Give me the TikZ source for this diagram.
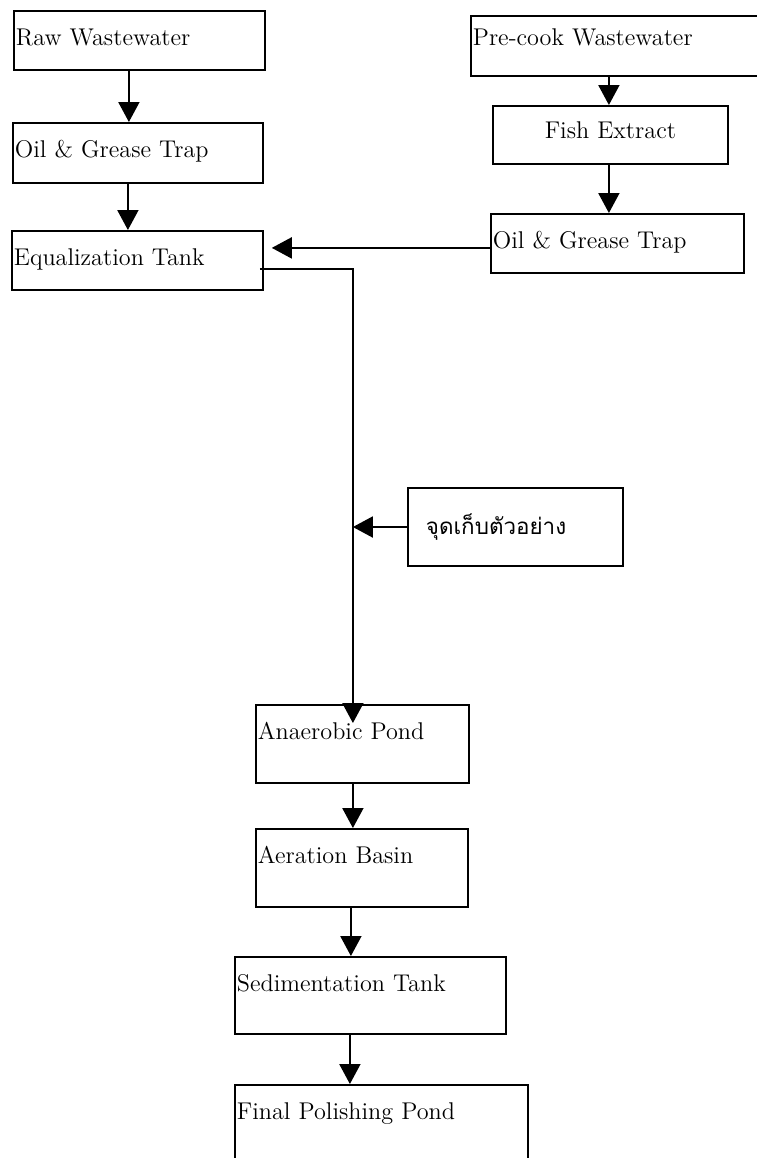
\documentclass[tikz,border=0pt]{standalone}
\usepackage{fontspec}
\newfontfamily\thaifont[Script=Thai]{Loma}
\usetikzlibrary{arrows.meta, calc}

\begin{document}
\begin{tikzpicture}[x=0.5pt, y=-0.5pt, >={Triangle[width=10.5pt,length=10pt]},
  box/.style={draw, line width=0.9pt, anchor=north west, inner xsep=1pt,
    inner ysep=0pt, align=left, text height=17.5pt,
    font=\fontsize{12.1}{14}\selectfont},
  arr/.style={->, line width=1pt}]
  \useasboundingbox (0,0) rectangle (756,1158);

  % left branch
  \node[box, text width=123.5pt, text depth=12pt] (raw) at (13,10) {Raw Wastewater};
  \node[box, text width=123pt, text depth=12.5pt] (oilL) at (12,122) {Oil \& Grease Trap};
  \node[box, text width=123.5pt, text depth=12pt] (eq) at (11,230) {Equalization Tank};

  % right branch
  \node[box, text width=148pt, text height=15pt, text depth=15pt] (pre) at (470,15) {Pre-cook Wastewater};
  \node[box, text width=115.5pt, text height=16.5pt, text depth=12.5pt, align=center] (fish) at (492,105) {Fish Extract};
  \node[box, text width=124.5pt, text depth=12pt] (oilR) at (490,213) {Oil \& Grease Trap};

  % sampling point
  \node[draw, line width=0.9pt, anchor=west, inner xsep=9pt, minimum height=39pt,
    text width=89.5pt, align=left, font=\thaifont\fontsize{11.2}{14}\selectfont]
    (sample) at (407,527) {จุดเก็บตัวอย่าง};

  % treatment line
  \node[box, text width=104.5pt, text depth=21.5pt] (an) at (255,704) {Anaerobic Pond};
  \node[box, text width=104pt, text depth=21.5pt] (aer) at (255,828) {Aeration Basin};
  \node[box, text width=133.5pt, text depth=21pt] (sed) at (234,956) {Sedimentation Tank};
  \node[box, text width=144.5pt, text depth=32.5pt] (final) at (234,1084) {Final Polishing Pond};

  \coordinate (trunk) at ([xshift=-4.75pt]an.north);

  \draw[arr] ([xshift=-5.25pt]raw.south) -- ([xshift=-5.25pt]raw.south |- oilL.north);
  \draw[arr] ([xshift=-5pt]oilL.south) -- ([xshift=-5pt]oilL.south |- eq.north);
  \draw[arr] ([xshift=-6pt]pre.south) -- ([xshift=-6pt]pre.south |- fish.north);
  \draw[arr] ([xshift=-0.75pt]fish.south) -- ([xshift=-0.75pt]fish.south |- oilR.north);
  \draw[arr, shorten >=4pt] ([yshift=-2.25pt]oilR.west) -- ([yshift=-2.25pt]oilR.west -| eq.east);
  \draw[arr, shorten >=-9.5pt] ([xshift=-2pt,yshift=-4.25pt]eq.east) -| (trunk);
  \draw[arr] (sample.west) -- (sample.west -| trunk);
  \draw[arr] ([xshift=-4.75pt]an.south) -- ([xshift=-4.75pt]an.south |- aer.north);
  \draw[arr] ([xshift=-5.5pt]aer.south) -- ([xshift=-5.5pt]aer.south |- sed.north);
  \draw[arr] ([xshift=-10.25pt]sed.south) -- ([xshift=-10.25pt]sed.south |- final.north);
\end{tikzpicture}
\end{document}
